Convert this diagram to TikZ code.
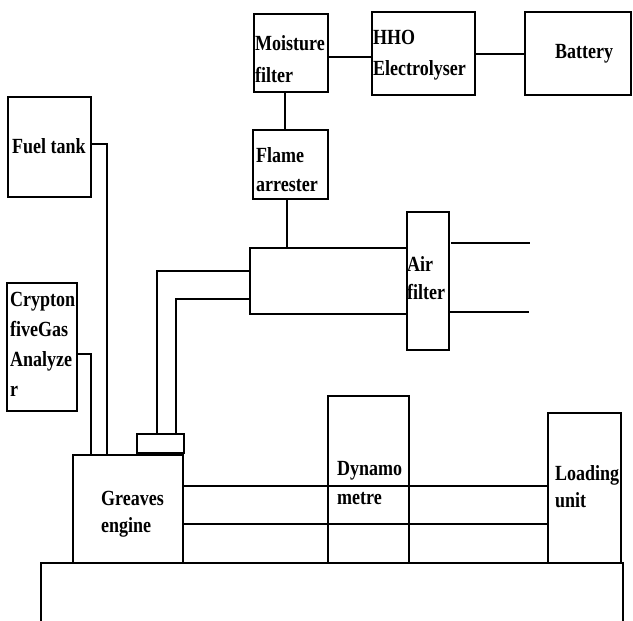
\documentclass[tikz,border=0pt]{standalone}
\usepackage{fontspec}
\setmainfont{Liberation Serif}
\usepackage{graphicx}
\begin{document}
\begin{tikzpicture}[x=1pt,y=-1pt,
  box/.style={draw,line width=1.2pt,rectangle,inner sep=0pt,outer sep=0pt},
  lbl/.style={anchor=base west,inner sep=0pt,font=\fontsize{18}{22}\selectfont\bfseries},
  wire/.style={line width=1.2pt},
  thick wire/.style={line width=2.6pt}]
\useasboundingbox (0,0) rectangle (633,621);
\newcommand{\tl}[1]{\scalebox{1}[1.2]{#1}}
% boxes
\node[box,minimum width=74pt,minimum height=78pt] (mf) at (291,53) {};
\node[box,minimum width=103pt,minimum height=83pt] (hho) at (423.5,53.5) {};
\node[box,minimum width=106pt,minimum height=83pt] (bat) at (578,53.5) {};
\node[box,minimum width=75pt,minimum height=69pt] (fa) at (290.5,164.5) {};
\node[box,minimum width=83pt,minimum height=100pt] (ft) at (49.5,147) {};
\node[box,minimum width=70pt,minimum height=128pt] (cr) at (42,347) {};
\node[box,minimum width=157pt,minimum height=66pt] (mix) at (328.5,281) {};
\node[box,minimum width=42pt,minimum height=138pt] (af) at (428,281) {};
\node[box,minimum width=47pt,minimum height=19pt] (exb) at (160.5,443.5) {};
\node[box,minimum width=110pt,minimum height=108pt] (eng) at (128,509) {};
\node[box,minimum width=81pt,minimum height=167pt] (dyn) at (368.5,479.5) {};
\node[box,minimum width=73pt,minimum height=150pt] (lu) at (584.5,488) {};
% labels
\node[lbl] (tmf1) at (255,50) {\tl{Moisture}};
\node[lbl] (tmf2) at (255,82) {\tl{filter}};
\node[lbl] (thho1) at (373,45) {\tl{HHO}};
\node[lbl] (thho2) at (373,75) {\tl{Electrolyser}};
\node[lbl] (tbat) at (555,58) {\tl{Battery}};
\node[lbl] (tft) at (12,153) {\tl{Fuel tank}};
\node[lbl] (tfa1) at (256,162) {\tl{Flame}};
\node[lbl] (tfa2) at (256,191) {\tl{arrester}};
\node[lbl] (tcr1) at (10,306) {\tl{Crypton}};
\node[lbl] (tcr2) at (10,336) {\tl{fiveGas}};
\node[lbl] (tcr3) at (10,366) {\tl{Analyze}};
\node[lbl] (tcr4) at (10,396) {\tl{r}};
\node[lbl] (taf1) at (407,271) {\tl{Air}};
\node[lbl] (taf2) at (407,299) {\tl{filter}};
\node[lbl] (teng1) at (101,505) {\tl{Greaves}};
\node[lbl] (teng2) at (101,532) {\tl{engine}};
\node[lbl] (tdyn1) at (337,475) {\tl{Dynamo}};
\node[lbl] (tdyn2) at (337,504) {\tl{metre}};
\node[lbl] (tlu1) at (555,480) {\tl{Loading}};
\node[lbl] (tlu2) at (555,507) {\tl{unit}};
% free ends
\coordinate (afu) at (530,243);
\coordinate (afl) at (529,312);
% connectors
\draw[wire] (mf.east |- 0,57) -- (hho.west |- 0,57);
\draw[wire] (hho.east |- 0,54) -- (bat.west |- 0,54);
\draw[wire] (mf.south -| 285,0) -- (fa.north -| 285,0);
\draw[wire] (fa.south -| 287,0) -- (mix.north -| 287,0);
\draw[wire] (ft.east |- 0,144) -| (eng.north -| 107,0);
\draw[wire] (cr.east |- 0,354) -| (eng.north -| 91,0);
\draw[wire] (mix.west |- 0,271) -| (exb.north -| 157,0);
\draw[wire] (mix.west |- 0,299) -| (exb.north -| 176,0);
\draw[thick wire] (exb.north -| 157,0) -- (exb.north -| 176,0);
\draw[wire] (af.east |- afu) ++(2,0) -- (afu);
\draw[wire] (af.east |- afl) -- (afl);
\draw[wire] (eng.east |- 0,486) -- (lu.west |- 0,486);
\draw[wire] (eng.east |- 0,524) -- (lu.west |- 0,524);
% base platform
\draw[wire] (41,621) -- (41,563) -- (623,563) -- (623,621);
\draw[thick wire] (eng.south west) -- (eng.south east);
\draw[thick wire] (lu.south west) -- (lu.south east);
\end{tikzpicture}
\end{document}
